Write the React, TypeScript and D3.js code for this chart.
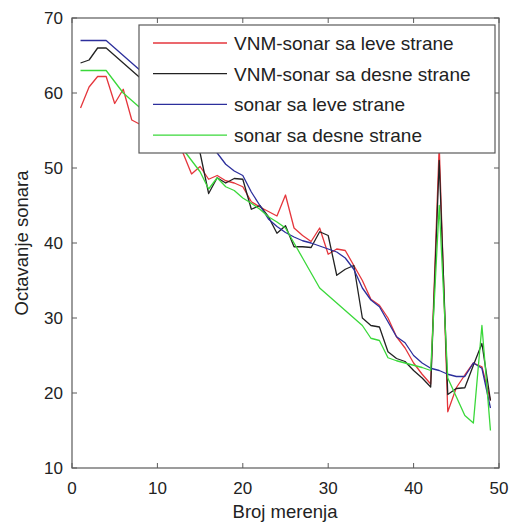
import React from 'react';
import * as d3 from 'd3';

// measurement index 1..49
const measurements = d3.range(1, 50);

const vnmLeft = [
  58, 60.8, 62.2, 62.2, 58.6, 60.5, 56.4, 55.8, 55.5, 55,
  54, 53, 52, 49.2, 50.2, 48.5, 49, 48.3, 48, 47.5,
  45.5, 44.8, 44.2, 43.6, 46.4, 42, 41, 40.2, 42, 38.5,
  39.2, 39, 37, 35, 32.5, 31.7, 30, 27.5, 26, 24,
  22.5, 21.2, 53, 17.5, 20.7, 22.4, 24, 23.5, 19,
];

const vnmRight = [
  64, 64.4, 66, 66, 65, 64, 63, 62, 61, 60,
  58.5, 57, 55, 53.5, 52, 46.6, 48.7, 48, 48.6, 48.5,
  44.5, 45, 43.5, 41.3, 42.3, 39.5, 39.5, 39.4, 41.5, 41,
  35.7, 36.5, 37, 30, 29, 28.8, 25.5, 24.6, 24.2, 23,
  22, 20.8, 51, 19.8, 20.6, 20.7, 23.7, 26.6, 19,
];

const sonarLeft = [
  67, 67, 67, 67, 66, 65, 64, 63, 62, 61,
  59.8, 58.6, 57.4, 56.2, 55, 53.5, 52, 50.5, 49.6, 49,
  46.8, 45, 43.2, 42.2, 41.4, 40.8, 40.3, 40, 39.6, 39.2,
  38.8, 38, 36.5, 34, 32.4, 31.5, 29.5, 27.5, 26.7, 25,
  24, 23.3, 23, 22.5, 22.2, 22.2, 24, 23.3, 18,
];

const sonarRight = [
  63, 63, 63, 63, 61.5, 60, 59, 58, 57, 56,
  55, 54, 52.5, 51, 49.5, 47.2, 48.7, 47.5, 47, 46,
  45.3, 44.5, 43.5, 42.8, 42, 40, 38, 36, 34, 33,
  32, 31, 30, 29, 27.3, 27, 24.7, 24.3, 24, 23.7,
  23.4, 23, 45, 22, 19.5, 17, 16, 29, 15,
];

const seriesNames = [
  'VNM-sonar sa leve strane',
  'VNM-sonar sa desne strane',
  'sonar sa leve strane',
  'sonar sa desne strane',
];
const seriesValues = [vnmLeft, vnmRight, sonarLeft, sonarRight];
const seriesColors = ['#e5363c', '#222222', '#2c2f9c', '#3ad83a'];

const xTicks = [0, 10, 20, 30, 40, 50];
const yTicks = [10, 20, 30, 40, 50, 60, 70];

const W = 511;
const H = 524;
const left = 72;
const right = 499;
const top = 18;
const bottom = 468;
const font = '"Liberation Sans", Arial, Helvetica, sans-serif';
const axisColor = '#5a5a5a';

export default function App() {
  const x = d3.scaleLinear().domain([0, 50]).range([left, right]);
  const y = d3.scaleLinear().domain([10, 70]).range([bottom, top]);

  const line = d3
    .line<number>()
    .x((_, i) => x(measurements[i]))
    .y((d) => y(d));

  const tickLen = 5;

  // legend box
  const lg = { x: 139, y: 25, w: 356, h: 128 };
  const rowY = (i: number) => lg.y + 18 + i * 30.7;

  return (
    <div style={{ position: 'absolute', left: 0, top: 0 }}>
      <svg width={W} height={H} style={{ display: 'block', background: '#fff' }}>
        <defs>
          <clipPath id="plot">
            <rect x={left} y={top} width={right - left} height={bottom - top} />
          </clipPath>
        </defs>

        <g clipPath="url(#plot)">
          {seriesValues.map((vals, si) => (
            <path
              key={si}
              d={line(vals) || ''}
              fill="none"
              stroke={seriesColors[si]}
              strokeWidth={1.3}
              strokeLinejoin="round"
            />
          ))}
        </g>

        {/* frame */}
        <rect
          x={left}
          y={top}
          width={right - left}
          height={bottom - top}
          fill="none"
          stroke={axisColor}
          strokeWidth={1.2}
        />

        {/* ticks on all sides */}
        {xTicks.map((t) => (
          <g key={'x' + t}>
            <line x1={x(t)} x2={x(t)} y1={bottom} y2={bottom - tickLen} stroke={axisColor} />
            <line x1={x(t)} x2={x(t)} y1={top} y2={top + tickLen} stroke={axisColor} />
            <text
              x={x(t)}
              y={494}
              textAnchor="middle"
              fontFamily={font}
              fontSize={17}
              fill="#222"
            >
              {t}
            </text>
          </g>
        ))}
        {yTicks.map((t) => (
          <g key={'y' + t}>
            <line x1={left} x2={left + tickLen} y1={y(t)} y2={y(t)} stroke={axisColor} />
            <line x1={right} x2={right - tickLen} y1={y(t)} y2={y(t)} stroke={axisColor} />
            <text
              x={63}
              y={y(t)}
              dy="0.36em"
              textAnchor="end"
              fontFamily={font}
              fontSize={17}
              fill="#222"
            >
              {t}
            </text>
          </g>
        ))}

        <text
          x={285}
          y={518}
          textAnchor="middle"
          fontFamily={font}
          fontSize={18.5}
          fill="#222"
        >
          Broj merenja
        </text>
        <text
          transform={`translate(28, 243) rotate(-90)`}
          textAnchor="middle"
          fontFamily={font}
          fontSize={18.5}
          fill="#222"
        >
          Octavanje sonara
        </text>

        {/* legend */}
        <rect x={lg.x} y={lg.y} width={lg.w} height={lg.h} fill="#fff" stroke={axisColor} strokeWidth={1.2} />
        {seriesNames.map((name, i) => (
          <g key={name}>
            <line x1={153} x2={227} y1={rowY(i)} y2={rowY(i)} stroke={seriesColors[i]} strokeWidth={1.3} />
            <text
              x={234}
              y={rowY(i)}
              dy="0.36em"
              fontFamily={font}
              fontSize={19}
              fill="#222"
            >
              {name}
            </text>
          </g>
        ))}
      </svg>
    </div>
  );
}
